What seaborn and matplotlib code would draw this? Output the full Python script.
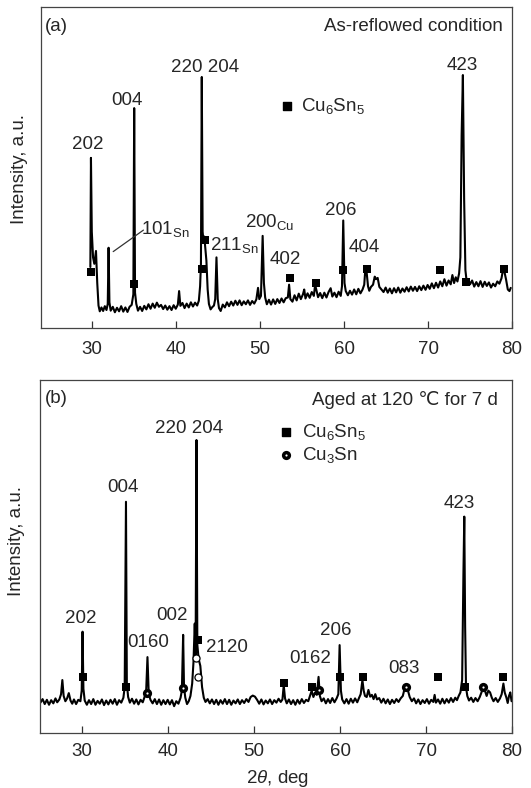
import matplotlib
matplotlib.use('Agg')
import matplotlib.pyplot as plt
import seaborn as sns

# ---------------- panel (a): as-reflowed ----------------
tth_a = [29.78, 29.85, 29.95, 30.1, 30.25, 30.45, 30.6, 30.75, 30.9, 31.1, 31.3, 31.5, 31.7, 31.85,
         31.95, 32.05, 32.2, 32.45, 32.7, 32.95, 33.2, 33.45, 33.7, 33.95, 34.2, 34.45, 34.7, 34.9,
         35.0, 35.1, 35.25, 35.45, 35.7, 35.95, 36.2, 36.45, 36.7, 36.95, 37.2, 37.45, 37.7, 37.95,
         38.2, 38.45, 38.7, 38.95, 39.2, 39.45, 39.7, 39.95, 40.2, 40.35, 40.5, 40.75, 41.0, 41.25,
         41.5, 41.75, 42.0, 42.25, 42.5, 42.7, 42.85, 42.95, 43.05, 43.15, 43.25, 43.35, 43.5, 43.6,
         43.75, 43.9, 44.1, 44.3, 44.5, 44.65, 44.8, 44.95, 45.1, 45.3, 45.55, 45.8, 46.05, 46.3,
         46.55, 46.8, 47.05, 47.3, 47.55, 47.8, 48.05, 48.3, 48.55, 48.8, 49.05, 49.3, 49.55, 49.75,
         49.9, 50.1, 50.3, 50.45, 50.6, 50.8, 51.05, 51.3, 51.55, 51.8, 52.05, 52.3, 52.55, 52.8,
         53.05, 53.3, 53.45, 53.6, 53.85, 54.1, 54.35, 54.6, 54.85, 55.1, 55.25, 55.4, 55.65, 55.9,
         56.15, 56.4, 56.55, 56.7, 56.9, 57.15, 57.4, 57.65, 57.9, 58.15, 58.4, 58.6, 58.85, 59.1,
         59.35, 59.6, 59.75, 59.9, 60.05, 60.2, 60.45, 60.7, 60.95, 61.2, 61.45, 61.7, 61.95, 62.2,
         62.4, 62.55, 62.7, 62.85, 63.0, 63.2, 63.45, 63.65, 63.8, 64.0, 64.2, 64.45, 64.7, 64.95,
         65.2, 65.45, 65.7, 65.95, 66.2, 66.45, 66.7, 66.95, 67.2, 67.45, 67.7, 67.95, 68.2, 68.45,
         68.7, 68.95, 69.2, 69.45, 69.7, 69.95, 70.2, 70.45, 70.7, 70.95, 71.2, 71.45, 71.7, 71.95,
         72.2, 72.45, 72.7, 72.9, 73.1, 73.3, 73.5, 73.7, 73.85, 74.0, 74.15, 74.3, 74.45, 74.6,
         74.8, 75.0, 75.25, 75.5, 75.75, 76.0, 76.25, 76.5, 76.75, 77.0, 77.25, 77.5, 77.75, 78.0,
         78.25, 78.5, 78.75, 78.95, 79.1, 79.3, 79.5, 79.7, 79.85]
int_a = [19, 53, 30, 22, 20, 24, 14, 7, 5.2, 6.4, 5.3, 6.8, 5.6, 7.5,
         25, 8, 5.4, 6.6, 4.9, 6.3, 5.2, 6.8, 5.1, 6.4, 5.0, 6.6, 7.2, 10.5,
         68.5, 11, 7.5, 5.4, 6.6, 5.3, 6.9, 5.8, 7.4, 6.0, 7.6, 6.3, 7.9, 6.6,
         7.2, 5.9, 7.0, 5.7, 6.8, 5.6, 7.1, 6.0, 7.3, 11.5, 6.9, 7.8, 6.2, 7.6,
         6.4, 8.0, 6.7, 7.9, 7.0, 8.5, 13, 20, 78.2, 30, 27, 28.5, 24, 21,
         12, 7.5, 5.8, 6.5, 7.0, 9, 22, 9, 6.2, 5.3, 7.3, 6.4, 8.0, 6.8,
         8.2, 7.0, 8.5, 7.2, 8.6, 7.1, 8.3, 7.4, 8.6, 7.2, 8.4, 7.6, 8.9, 12.5,
         9, 10, 28.7, 14, 9.5, 7.4, 8.8, 7.3, 8.9, 7.5, 9.0, 7.8, 9.2, 8.0,
         9.3, 9.5, 13.5, 9.0, 8.2, 10.2, 8.6, 10.7, 9.0, 10.5, 12, 9.2, 10.8, 9.4,
         11.2, 10.0, 13.5, 11.8, 9.6, 10.9, 9.3, 11.0, 9.5, 11.2, 12.4, 9.8, 11.0, 9.6,
         11.3, 10.0, 13, 33.5, 14, 11.5, 10.2, 11.6, 10.4, 12.0, 10.5, 12.2, 10.8, 12.0,
         13.5, 19, 17, 13, 11.6, 12.8, 13.5, 16, 15.2, 15.6, 12.8, 12.0, 11.2, 12.6,
         11.0, 12.3, 10.8, 12.4, 11.1, 12.6, 11.0, 12.3, 11.3, 12.7, 11.4, 12.9, 11.6, 12.8,
         11.5, 13.0, 11.8, 13.2, 11.9, 13.4, 12.2, 13.9, 12.4, 14.1, 12.6, 14.5, 13.0, 15.2,
         13.2, 14.8, 13.6, 16.5, 14.0, 15.8, 14.5, 17, 22, 60, 78.8, 40, 18, 14.5,
         15.2, 13.6, 14.8, 12.9, 14.3, 13.0, 14.6, 12.8, 14.4, 13.1, 14.2, 12.6, 13.8, 13.0,
         14.5, 13.8, 15.5, 18.5, 17.5, 15, 12.0, 11.5, 12.5]

sq_a_x = [29.85, 35.0, 43.1, 43.45, 53.5, 56.6, 59.9, 62.7, 71.4, 74.5, 79.05]
sq_a_y = [17.4, 13.6, 18.5, 27.5, 15.7, 13.9, 18.1, 18.3, 18.1, 14.4, 18.3]

lab_a_text = ['202', '004', '220 204', '423', r'101$_{\rm Sn}$', r'211$_{\rm Sn}$',
              r'200$_{\rm Cu}$', '402', '206', '404']
lab_a_x = [29.5, 34.1, 43.5, 74.1, 38.7, 46.9, 51.1, 53.0, 59.6, 62.4]
lab_a_y = [55.9, 69.5, 79.8, 80.4, 29.4, 24.4, 31.6, 20.0, 35.3, 23.8]
leader_a_x = [32.5, 36.1]
leader_a_y = [23.8, 30.5]

# ---------------- panel (b): aged 120 C, 7 d ----------------
tth_b = [25.15, 25.4, 25.65, 25.9, 26.15, 26.4, 26.65, 26.9, 27.1, 27.35, 27.55, 27.7, 27.85, 28.05,
         28.25, 28.45, 28.65, 28.85, 29.05, 29.3, 29.55, 29.8, 29.95, 30.05, 30.15, 30.3, 30.55, 30.8,
         31.05, 31.3, 31.55, 31.8, 32.05, 32.3, 32.55, 32.8, 33.05, 33.3, 33.55, 33.8, 34.05, 34.3,
         34.55, 34.8, 34.95, 35.1, 35.2, 35.35, 35.55, 35.8, 36.05, 36.3, 36.55, 36.8, 37.05, 37.3,
         37.45, 37.6, 37.75, 37.95, 38.2, 38.45, 38.7, 38.95, 39.2, 39.45, 39.7, 39.95, 40.2, 40.45,
         40.7, 40.95, 41.2, 41.45, 41.6, 41.75, 41.85, 42.0, 42.2, 42.4, 42.6, 42.8, 42.95, 43.1,
         43.2, 43.3, 43.4, 43.55, 43.75, 43.95, 44.15, 44.35, 44.6, 44.85, 45.1, 45.35, 45.6, 45.85,
         46.1, 46.35, 46.6, 46.85, 47.1, 47.35, 47.6, 47.85, 48.1, 48.35, 48.6, 48.85, 49.1, 49.35,
         49.6, 49.85, 50.1, 50.35, 50.6, 50.85, 51.1, 51.35, 51.6, 51.85, 52.1, 52.35, 52.6, 52.85,
         53.1, 53.3, 53.45, 53.6, 53.8, 54.05, 54.3, 54.55, 54.8, 55.05, 55.3, 55.55, 55.8, 56.05,
         56.3, 56.5, 56.7, 56.9, 57.1, 57.3, 57.5, 57.65, 57.85, 58.1, 58.35, 58.6, 58.85, 59.1,
         59.35, 59.6, 59.8, 59.95, 60.1, 60.25, 60.5, 60.75, 61.0, 61.25, 61.5, 61.75, 62.0, 62.2,
         62.4, 62.6, 62.75, 62.9, 63.1, 63.3, 63.5, 63.7, 63.9, 64.1, 64.3, 64.55, 64.8, 65.05,
         65.3, 65.55, 65.8, 66.05, 66.3, 66.55, 66.8, 67.05, 67.3, 67.5, 67.7, 67.9, 68.1, 68.35,
         68.6, 68.85, 69.1, 69.35, 69.6, 69.85, 70.1, 70.35, 70.6, 70.85, 71.0, 71.15, 71.4, 71.65,
         71.9, 72.15, 72.4, 72.65, 72.9, 73.15, 73.4, 73.6, 73.8, 74.0, 74.2, 74.35, 74.45, 74.55,
         74.65, 74.8, 75.0, 75.25, 75.5, 75.75, 76.0, 76.25, 76.45, 76.65, 76.85, 77.05, 77.25, 77.45,
         77.65, 77.85, 78.1, 78.35, 78.6, 78.8, 79.0, 79.15, 79.35, 79.5, 79.65, 79.8, 79.95]
int_b = [8.6, 9.6, 8.2, 9.4, 8.0, 9.3, 8.4, 9.8, 8.7, 9.5, 11, 15, 10.5, 9.0,
         9.8, 11.3, 9.2, 8.3, 9.5, 8.2, 9.4, 9.0, 12, 28.7, 12.5, 9.2, 8.0, 9.3,
         8.2, 9.6, 8.0, 9.1, 8.3, 9.5, 7.9, 9.2, 8.1, 9.4, 8.3, 9.6, 8.0, 9.3,
         8.6, 10, 13, 65.5, 14, 10.2, 8.6, 9.7, 8.3, 9.5, 8.1, 9.4, 8.7, 10.5,
         12, 21.5, 11, 9.4, 8.4, 9.6, 8.2, 9.5, 8.0, 9.3, 8.2, 9.4, 8.1, 9.3,
         7.6, 9.0, 8.3, 10.0, 12, 27.8, 13, 10.0, 8.2, 9.0, 10.5, 14, 20, 31,
         22, 83, 25, 21, 19, 13, 10, 8.8, 9.6, 8.4, 9.5, 8.2, 9.4, 8.0,
         9.3, 8.3, 9.6, 8.2, 9.4, 8.0, 9.2, 8.4, 9.5, 8.2, 9.3, 8.5, 9.6, 8.8,
         10.2, 10.6, 10.3, 9.4, 8.3, 9.5, 8.1, 9.2, 8.4, 9.5, 8.2, 9.3, 8.6, 9.7,
         8.8, 9.5, 13.5, 9.8, 8.4, 9.5, 8.2, 9.3, 8.0, 9.4, 8.3, 9.6, 8.5, 9.4,
         9.0, 10.5, 12, 10.2, 11.5, 10.8, 15.9, 10.5, 9.0, 9.8, 8.4, 9.6, 8.5, 9.9,
         8.7, 9.8, 11, 24.9, 12, 9.5, 8.4, 9.6, 8.3, 9.7, 8.6, 9.8, 8.7, 9.9,
         11, 15, 12, 10.5, 10.2, 12.2, 10.3, 10.8, 9.6, 11.0, 9.5, 9.9, 8.6, 9.7,
         8.4, 9.5, 8.2, 9.4, 8.5, 9.6, 8.8, 9.8, 10.5, 12.5, 13.5, 12, 10.2, 9.0,
         9.8, 8.4, 9.5, 8.2, 9.3, 8.5, 9.6, 8.3, 9.4, 8.8, 10.8, 8.6, 9.5, 8.3,
         9.7, 8.4, 9.6, 8.6, 9.9, 8.8, 10.0, 9.3, 10.5, 11.5, 15, 45, 61.3, 30,
         13, 10.5, 9.2, 10.0, 8.8, 9.9, 9.0, 10.2, 11.5, 13, 12, 10.5, 12, 11.5,
         10.0, 9.0, 9.9, 8.8, 9.8, 11, 14, 11.5, 10, 8.5, 10.5, 11.5, 9.0]

sq_b_x = [30.05, 35.15, 43.45, 53.45, 56.7, 60.0, 62.7, 71.45, 74.5, 79.0]
sq_b_y = [15.9, 13.1, 26.3, 14.2, 13.0, 15.9, 15.9, 15.9, 13.1, 15.9]
ci_b_x = [37.6, 41.75, 57.5, 67.7, 76.6]
ci_b_y = [11.4, 12.7, 12.2, 13.1, 13.0]
oc_b_x = [43.3, 43.45]
oc_b_y = [21.2, 16.0]

lab_b_text = ['202', '004', '220 204', '423', '0160', '002', '2120', '0162', '206', '083']
lab_b_x = [29.8, 34.7, 42.4, 73.9, 37.7, 40.5, 46.8, 56.5, 59.5, 67.4]
lab_b_y = [31.2, 68.3, 85.0, 63.7, 24.4, 32.0, 22.9, 19.8, 27.8, 17.0]

xticks = [30, 40, 50, 60, 70, 80]

# ---------------- style ----------------
sns.set_style('white')
plt.rcParams['font.family'] = ['Liberation Sans', 'DejaVu Sans']
plt.rcParams['mathtext.fontset'] = 'custom'
plt.rcParams['mathtext.rm'] = 'Liberation Sans'
plt.rcParams['mathtext.it'] = 'Liberation Sans:italic'
FS = 13.5
LW = 1.5

fig = plt.figure(figsize=(5.31, 7.88), dpi=100)
ax_a = fig.add_axes([41 / 531, 1 - 328 / 788, 471 / 531, 321 / 788])
ax_b = fig.add_axes([40 / 531, 1 - 733 / 788, 472 / 531, 353 / 788])


def style_axes(ax, xlim, pad):
    ax.set_xlim(*xlim)
    ax.set_ylim(0, 100)
    ax.set_xticks(xticks)
    ax.set_xticklabels([str(t) for t in xticks])
    ax.set_yticks([])
    ax.tick_params(axis='x', direction='in', length=5, width=0.9, color='#333333',
                   labelsize=FS, pad=pad, bottom=True, top=False)
    for s in ax.spines.values():
        s.set_linewidth(0.9)
        s.set_color('#444444')
    ax.set_xlabel('')
    ax.set_ylabel('')


def ring_markers(ax, xs, ys, transform=None):
    if transform is None:
        sns.scatterplot(x=xs, y=ys, ax=ax, marker='o', s=44, color='black',
                        edgecolor='black', linewidth=0, zorder=3)
        sns.scatterplot(x=xs, y=ys, ax=ax, marker='o', s=2.5, color='white',
                        edgecolor='white', linewidth=0, zorder=4)
    else:
        ax.scatter(xs, ys, marker='o', s=44, color='black', linewidths=0, transform=transform)
        ax.scatter(xs, ys, marker='o', s=2.5, color='white', linewidths=0, transform=transform)


# panel (a)
sns.lineplot(x=tth_a, y=int_a, ax=ax_a, color='black', lw=LW, estimator=None, sort=False)
sns.scatterplot(x=sq_a_x, y=sq_a_y, ax=ax_a, marker='s', s=32, color='black',
                edgecolor='black', linewidth=0, zorder=3)
for t, x, y in zip(lab_a_text, lab_a_x, lab_a_y):
    ax_a.text(x, y, t, ha='center', va='baseline', fontsize=FS)
ax_a.plot(leader_a_x, leader_a_y, color='#333333', lw=0.9)
style_axes(ax_a, (23.9, 80), 9)
ax_a.text(0.009, 0.938, '(a)', transform=ax_a.transAxes, ha='left', va='center', fontsize=FS)
ax_a.text(0.981, 0.938, 'As-reflowed condition', transform=ax_a.transAxes,
          ha='right', va='center', fontsize=FS)
ax_a.scatter([0.522], [0.692], transform=ax_a.transAxes, marker='s', s=26, color='black')
ax_a.text(0.553, 0.692, r'Cu$_6$Sn$_5$', transform=ax_a.transAxes, ha='left', va='center', fontsize=FS)
ax_a.text(-0.0446, 0.495, 'Intensity, a.u.', transform=ax_a.transAxes, rotation=90,
          ha='center', va='center', fontsize=FS)

# panel (b)
sns.lineplot(x=tth_b, y=int_b, ax=ax_b, color='black', lw=LW, estimator=None, sort=False)
sns.scatterplot(x=sq_b_x, y=sq_b_y, ax=ax_b, marker='s', s=32, color='black',
                edgecolor='black', linewidth=0, zorder=3)
ring_markers(ax_b, ci_b_x, ci_b_y)
sns.scatterplot(x=oc_b_x, y=oc_b_y, ax=ax_b, marker='o', s=26, color='white',
                edgecolor='black', linewidth=0.9, zorder=3)
for t, x, y in zip(lab_b_text, lab_b_x, lab_b_y):
    ax_b.text(x, y, t, ha='center', va='baseline', fontsize=FS)
style_axes(ax_b, (25.1, 80), 7)
ax_b.text(0.011, 0.949, '(b)', transform=ax_b.transAxes, ha='left', va='center', fontsize=FS)
ax_b.text(0.970, 0.943, 'Aged at 120 \u2103 for 7 d', transform=ax_b.transAxes,
          ha='right', va='center', fontsize=FS)
ax_b.scatter([0.521], [0.853], transform=ax_b.transAxes, marker='s', s=26, color='black')
ring_markers(ax_b, [0.521], [0.788], transform=ax_b.transAxes)
ax_b.text(0.556, 0.853, r'Cu$_6$Sn$_5$', transform=ax_b.transAxes, ha='left', va='center', fontsize=FS)
ax_b.text(0.556, 0.788, r'Cu$_3$Sn', transform=ax_b.transAxes, ha='left', va='center', fontsize=FS)
ax_b.text(-0.0508, 0.544, 'Intensity, a.u.', transform=ax_b.transAxes, rotation=90,
          ha='center', va='center', fontsize=FS)
ax_b.set_xlabel(r'2$\theta$, deg', fontsize=FS)
ax_b.xaxis.set_label_coords(0.504, -0.099)

fig.savefig('out.png', dpi=100)
